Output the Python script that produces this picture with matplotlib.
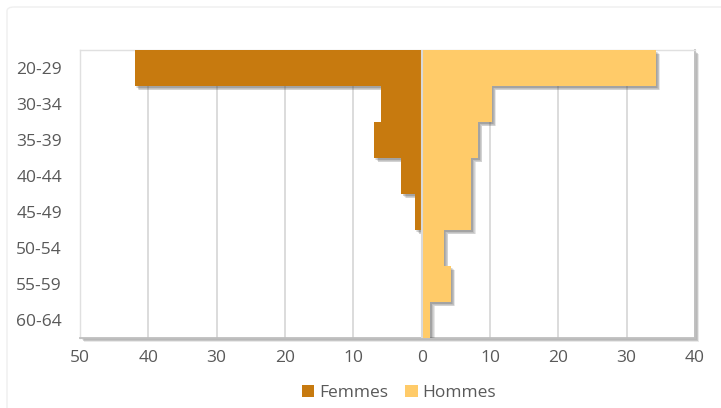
import matplotlib
matplotlib.use("Agg")
import matplotlib.pyplot as plt
import matplotlib.patheffects as pe
from matplotlib.patches import FancyBboxPatch, Patch
from matplotlib.ticker import FuncFormatter, MultipleLocator

# Age groups and counts per sex
age_groups = ["20-29", "30-34", "35-39", "40-44", "45-49", "50-54", "55-59", "60-64"]
femmes = [42, 6, 7, 3, 1, 0, 0, 0]
hommes = [34, 10, 8, 7, 7, 3, 4, 1]

col_f = "#C77A0F"
col_h = "#FFCB69"
txt = "#595959"

plt.rcParams["font.family"] = ["Open Sans", "DejaVu Sans"]


def soft_shadow(dist=2.6, steps=5, alpha=0.14, face="#555555"):
    """Stack of offset shadows giving a blurred drop shadow."""
    effects = []
    for k in range(steps, 0, -1):
        d = dist * k / steps + 0.6
        effects.append(pe.SimplePatchShadow(offset=(d, -d), shadow_rgbFace=face, alpha=alpha))
    effects.append(pe.Normal())
    return effects


fig = plt.figure(figsize=(7.21, 4.08), dpi=100)
fig.patch.set_facecolor("white")

# faint chart-area frame
frame = FancyBboxPatch((7 / 721, -0.05), 1.2, 1 - 7 / 408 + 0.05,
                       boxstyle="round,pad=0,rounding_size=0.01",
                       transform=fig.transFigure, facecolor="white",
                       edgecolor="#EFEFEF", linewidth=1.0, zorder=-5)
fig.patches.append(frame)

ax = fig.add_axes([80 / 721, 1 - 338 / 408, (695 - 80) / 721, (338 - 50) / 408])
ax.set_zorder(2)
ax.patch.set_path_effects(soft_shadow(dist=2.4, steps=4, alpha=0.16, face="#777777"))

y = list(range(len(age_groups)))

for i in y:
    b = ax.barh(i, -femmes[i], height=1.0, color=col_f, zorder=3)
    for p in b:
        p.set_path_effects(soft_shadow())
for i in y:
    b = ax.barh(i, hommes[i], height=1.0, color=col_h, zorder=3, left=0.25)
    for p in b:
        p.set_path_effects(soft_shadow())

ax.set_ylim(len(age_groups) - 0.5, -0.5)
ax.set_xlim(-50, 40)
ax.xaxis.set_major_locator(MultipleLocator(10))
ax.xaxis.set_major_formatter(FuncFormatter(lambda v, _: f"{abs(int(round(v)))}"))
ax.set_yticks(y)
ax.set_yticklabels(age_groups)

ax.grid(axis="x", color="#D9D9D9", linewidth=1.3, zorder=0)
ax.set_axisbelow(True)
ax.axvline(0.1, color="#D9D9D9", linewidth=1.5, zorder=4)

ax.tick_params(axis="both", length=0, labelsize=12.5, colors=txt)
ax.tick_params(axis="y", pad=13)
ax.tick_params(axis="x", pad=9)

for s in ["top", "left"]:
    ax.spines[s].set_color("#E0E0E0")
    ax.spines[s].set_linewidth(1.0)
for s in ["right", "bottom"]:
    ax.spines[s].set_color("#BFBFBF")
    ax.spines[s].set_linewidth(1.3)

handles = [Patch(facecolor=col_f, label="Femmes"), Patch(facecolor=col_h, label="Hommes")]
fig.legend(handles=handles, loc="center", bbox_to_anchor=(399 / 721, 1 - 393 / 408),
           ncol=2, frameon=False, fontsize=12.5, labelcolor=txt,
           handlelength=0.7, handleheight=0.7, handletextpad=0.3, columnspacing=1.0)

fig.savefig("out.png", dpi=100, facecolor="white")
